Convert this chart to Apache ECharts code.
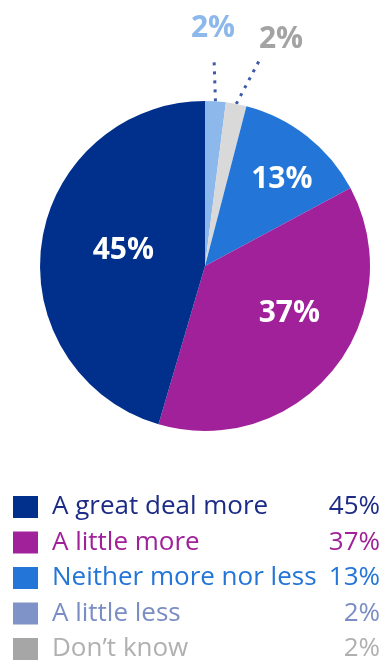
<!DOCTYPE html>
<html>
<head>
<meta charset="utf-8">
<script src="https://cdn.jsdelivr.net/npm/echarts@6/dist/echarts.min.js"></script>
<style>
html,body{margin:0;padding:0;background:#fff;}
#chart{width:384px;height:660px;}
</style>
</head>
<body>
<div id="chart"></div>
<script>
// ---- data ----
const categories = ['A great deal more', 'A little more', 'Neither more nor less', 'A little less', 'Don\u2019t know'];
const values = [45, 37, 13, 2, 2];
const sliceColors = ['#00308c', '#a0219a', '#2375d8', '#8db8ec', '#d9d9d9'];
const legendIconColors = ['#00308c', '#a0219a', '#2375d8', '#8093c8', '#a6a6a6'];
const legendTextColors = ['#1c2c86', '#a0219a', '#2375d8', '#7a8dc4', '#b0b0b0'];
const outsideLabelColors = {3: '#8db8ec', 4: '#a3a3a3'};
// clockwise drawing order starting at 12 o'clock
const pieOrder = [3, 4, 2, 1, 0];

const FONT = 'Open Sans';

const pieData = pieOrder.map(i => {
  const outside = values[i] < 5;
  return {
    name: categories[i],
    value: values[i],
    itemStyle: {color: sliceColors[i]},
    label: outside ? {
      position: 'outside',
      color: outsideLabelColors[i],
      fontSize: 30, fontWeight: 'bold', fontFamily: FONT
    } : {
      position: 'inside',
      color: '#ffffff',
      fontSize: 30, fontWeight: 'bold', fontFamily: FONT
    },
    labelLine: outside ? {
      show: true, length: 40, length2: 0, smooth: false,
      lineStyle: {color: '#3d5aa8', width: 3, type: [3, 6]}
    } : {show: false}
  };
});

// label placement tweaks (by series data index)
const labelTweaks = {
  0: {x: 213, y: 28, lineEnd: [1, 30]},
  1: {x: 281, y: 39, lineEnd: [-22, 22]},
  2: {dx: 24, dy: -19},
  3: {dx: 18, dy: -6},
  4: {dx: 3, dy: -3}
};

const chart = echarts.init(document.getElementById('chart'), null, {renderer: 'canvas'});
chart.setOption({
  animation: false,
  backgroundColor: '#ffffff',
  legend: {
    orient: 'vertical',
    left: 13,
    top: 494,
    height: 400,
    padding: 0,
    itemWidth: 25,
    itemHeight: 22,
    itemGap: 9.5,
    icon: 'rect',
    selectedMode: false,
    data: categories.map((c, i) => ({
      name: c,
      icon: 'rect',
      itemStyle: {color: legendIconColors[i]},
      textStyle: {color: legendTextColors[i]}
    })),
    textStyle: {
      fontFamily: FONT, fontSize: 26, lineHeight: 22,
      rich: {
        n: {fontFamily: FONT, fontSize: 26, lineHeight: 22, width: 268, padding: [0, 0, 0, 9]},
        v: {fontFamily: FONT, fontSize: 26, lineHeight: 22, width: 60, align: 'right'}
      }
    },
    formatter: function (name) {
      const i = categories.indexOf(name);
      return '{n|' + name + '}{v|' + values[i] + '%}';
    }
  },
  series: [{
    type: 'pie',
    center: [205, 266],
    radius: [0, 165],
    startAngle: 90,
    clockwise: true,
    avoidLabelOverlap: false,
    silent: true,
    label: {formatter: '{c}%'},
    labelLayout: function (p) {
      const t = labelTweaks[p.dataIndex];
      if (!t) return {};
      if (t.x != null) {
        const p0 = p.labelLinePoints ? p.labelLinePoints[0] : null;
        const res = {x: t.x, y: t.y, align: 'center', verticalAlign: 'middle'};
        if (p0) res.labelLinePoints = [p0, [t.x + t.lineEnd[0], t.y + t.lineEnd[1]]];
        return res;
      }
      return {dx: t.dx, dy: t.dy};
    },
    data: pieData
  }]
});
</script>
</body>
</html>
